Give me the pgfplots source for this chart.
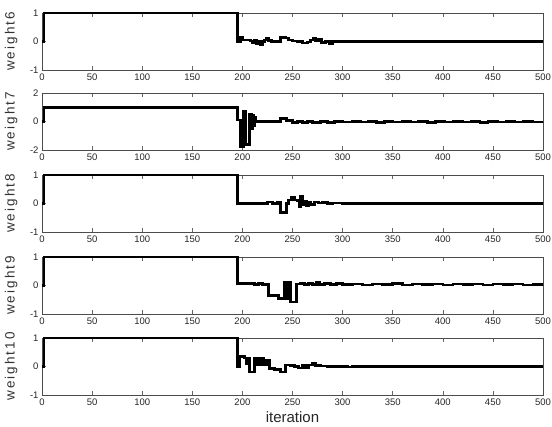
\documentclass[border=0pt]{standalone}
\usepackage{fontspec}
\setmainfont{Liberation Sans}
\newfontfamily\lblfont[LetterSpace=15]{Liberation Sans}
\usepackage{pgfplots}
\pgfplotsset{compat=1.18}
\begin{document}
\begin{tikzpicture}
\pgfplotsset{
  panel/.style={
    width=501pt, height=57pt, scale only axis,
    xmin=0, xmax=500, xtick={0,50,...,500},
    tick align=inside, major tick length=4pt,
    axis line style={black!70, line width=0.6pt},
    tick style={black!60, line width=0.5pt},
    ticklabel style={font=\fontsize{9.5}{10}\selectfont, text=black!85},
    /pgf/number format/assume math mode=true,
    ylabel style={font=\lblfont\fontsize{13.5}{14}\selectfont, text=black!80,
      at={(axis description cs:-0.042,0.5)}, anchor=south, rotate=0},
    xlabel style={font=\fontsize{15}{16}\selectfont, text=black!85},
    anchor=north west,
  },
  wline/.style={const plot, black, line width=2.6pt, no marks},
}
\useasboundingbox (-42pt,13pt) rectangle (510pt,-414pt);
% weight6
\begin{axis}[panel, at={(0pt,0pt)}, ymin=-1, ymax=1, ytick={-1,0,1}, ylabel={weight6}]
\addplot[wline] coordinates {(0,0)(2,1)(195,0)(198,0.15)(200,0.05)(205,0.05)(208,0.02)(210,-0.05)(212,0.04)(214,-0.08)(216,0)(218,-0.12)(220,0)(222,0.05)(224,0.12)(226,0.03)(229,0)(238,0.15)(243,0.12)(246,0.05)(250,0.02)(255,0)(260,-0.05)(265,-0.02)(268,0.05)(271,0.12)(273,0.02)(276,0.06)(279,-0.03)(283,0)(287,-0.06)(290,-0.01)(500,-0.01)};
\end{axis}
% weight7
\begin{axis}[panel, at={(0pt,-80pt)}, ymin=-2, ymax=2, ytick={-2,0,2}, ylabel={weight7}]
\addplot[wline] coordinates {(0,0)(2,1)(195,0.1)(198,-1.75)(201,0.75)(203,-1.6)(207,0.5)(209,-0.5)(210,0.4)(211,-0.3)(212,0.3)(213,0)(225,0.02)(238,0.2)(244,0.05)(250,-0.05)(255,0)(260,-0.08)(265,-0.02)(270,-0.06)(278,-0.01)(285,-0.05)(292,0)(300,-0.04)(310,0.01)(318,-0.04)(326,0)(334,-0.05)(342,0.01)(350,-0.03)(360,0.01)(368,-0.04)(376,0)(385,-0.05)(393,0)(402,-0.03)(410,0.01)(420,-0.04)(428,0)(437,-0.05)(445,0)(455,-0.03)(463,0.01)(472,-0.04)(480,0)(490,-0.04)(500,-0.02)};
\end{axis}
% weight8
\begin{axis}[panel, at={(0pt,-162pt)}, ymin=-1, ymax=1, ytick={-1,0,1}, ylabel={weight8}]
\addplot[wline] coordinates {(0,0)(2,1)(195,0)(225,0.05)(230,0)(235,0.05)(238,-0.32)(244,0)(246,0.12)(249,0.22)(252,0.12)(255,0.1)(257,-0.1)(258,0.25)(260,-0.05)(262,0.06)(264,-0.08)(266,0.05)(268,-0.03)(272,0.05)(276,0.02)(280,0.03)(285,0)(290,0.02)(300,0)(500,0)};
\end{axis}
% weight9
\begin{axis}[panel, at={(0pt,-244pt)}, ymin=-1, ymax=1, ytick={-1,0,1}, ylabel={weight9}]
\addplot[wline] coordinates {(0,0)(2,1)(195,0.07)(212,0.03)(216,0.07)(220,0.03)(226,-0.35)(236,-0.45)(242,0.1)(244,-0.45)(246,0.12)(248,-0.58)(254,0.05)(258,0.08)(262,0.03)(266,0.08)(270,0.04)(274,0.1)(277,0.04)(282,0.07)(288,0.03)(294,0.06)(300,0.03)(310,0.05)(320,0.02)(330,0.05)(340,0.03)(350,0.06)(360,0.02)(370,0.05)(380,0.03)(390,0.05)(400,0.02)(410,0.05)(420,0.03)(430,0.05)(440,0.02)(450,0.05)(460,0.03)(470,0.05)(480,0.02)(490,0.04)(500,0.03)};
\end{axis}
% weight10
\begin{axis}[panel, at={(0pt,-325pt)}, ymin=-1, ymax=1, ytick={-1,0,1}, ylabel={weight10}, xlabel={iteration}]
\addplot[wline] coordinates {(0,0)(2,1)(195,0)(197,0.35)(202,0.3)(204,0.1)(205,0.3)(207,-0.2)(212,0.3)(215,0.05)(218,0.28)(221,0.05)(224,0.2)(227,-0.08)(232,-0.1)(236,-0.1)(238,-0.2)(243,0.05)(248,0.03)(252,0)(256,-0.05)(260,0.03)(263,-0.03)(266,0.05)(270,0.1)(273,0.04)(278,0.02)(285,0)(292,0.01)(300,0)(305,-0.02)(310,0)(500,0)};
\end{axis}
\end{tikzpicture}
\end{document}
